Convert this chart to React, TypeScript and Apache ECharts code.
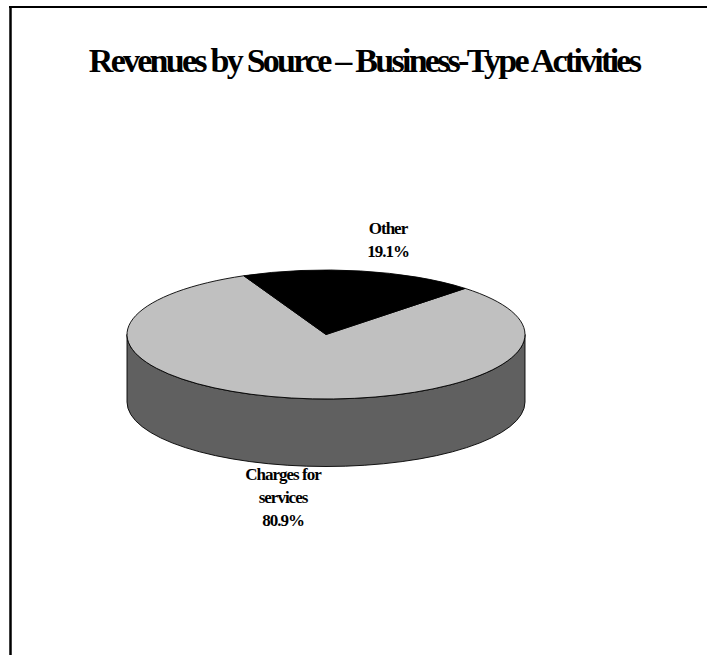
import React, { useEffect, useRef } from "react";
import * as echarts from "echarts";

const TITLE = "Revenues by Source – Business-Type Activities";
const categories = ["Charges for services", "Other"];
const shares = [80.9, 19.1];
const labels = ["Charges for\nservices\n80.9%", "Other\n19.1%"];
const sliceColors = ["#C0C0C0", "#000000"];
const SIDE = "#606060";

const CX = 326, CY = 334.5, RX = 199, RY = 64.5, DEPTH = 67.5;
const OTHER_START = 114.4;

const pt = (deg: number, dy = 0) => {
  const a = (deg * Math.PI) / 180;
  return [CX + RX * Math.cos(a), CY + dy - RY * Math.sin(a)];
};

const renderItem = (params: any, api: any) => {
  const idx = params.dataIndex;
  const value = api.value(0) as number;
  const otherSweep = (shares[1] / 100) * 360;
  const start = idx === 1 ? OTHER_START - otherSweep : OTHER_START;
  const sweep = (value / 100) * 360;
  const end = start + sweep;
  const children: any[] = [];
  const stroke = { stroke: "#000", lineWidth: 0.9 };
  if (idx === 0) {
    const l = pt(180), lb = pt(180, DEPTH), r = pt(360), rb = pt(360, DEPTH);
    children.push({
      type: "path",
      shape: {
        pathData: `M${l[0]} ${l[1]}L${lb[0]} ${lb[1]}A${RX} ${RY} 0 0 0 ${rb[0]} ${rb[1]}L${r[0]} ${r[1]}A${RX} ${RY} 0 0 1 ${l[0]} ${l[1]}Z`,
      },
      style: { fill: SIDE, ...stroke },
    });
  }
  const s = pt(start), e = pt(end);
  const large = sweep > 180 ? 1 : 0;
  children.push({
    type: "path",
    shape: {
      pathData: `M${CX} ${CY}L${s[0]} ${s[1]}A${RX} ${RY} 0 ${large} 0 ${e[0]} ${e[1]}Z`,
    },
    style: { fill: sliceColors[idx], ...stroke },
  });
  return { type: "group", children };
};

export default function App() {
  const ref = useRef<HTMLDivElement>(null);
  useEffect(() => {
    const chart = echarts.init(ref.current!, undefined, { renderer: "svg" });
    chart.setOption({
      animation: false,
      backgroundColor: "#fff",
      graphic: [
        { type: "line", shape: { x1: 10.5, y1: 6, x2: 10.5, y2: 655 }, style: { stroke: "#000", lineWidth: 2.5 } },
        { type: "line", shape: { x1: 9, y1: 7, x2: 707, y2: 7 }, style: { stroke: "#000", lineWidth: 2 } },
        {
          type: "text", x: 364, y: 60,
          style: { text: TITLE, fill: "#000", font: "bold 34px 'Liberation Serif'", align: "center", verticalAlign: "middle" },
        },
        {
          type: "text", x: 388, y: 240,
          style: { text: labels[1], fill: "#000", font: "bold 17px 'Liberation Serif'", lineHeight: 23, align: "center", verticalAlign: "middle" },
        },
        {
          type: "text", x: 283, y: 497,
          style: { text: labels[0], fill: "#000", font: "bold 17px 'Liberation Serif'", lineHeight: 23, align: "center", verticalAlign: "middle" },
        },
      ],
      series: [
        {
          type: "custom",
          coordinateSystem: "none",
          renderItem,
          data: categories.map((name, i) => ({ name, value: [shares[i]] })),
        },
      ],
    });
    return () => chart.dispose();
  }, []);
  return (
    <>
      <style>{`svg text{letter-spacing:-1px} svg text[style*="34px"]{letter-spacing:-2.75px}`}</style>
      <div ref={ref} style={{ position: "fixed", left: 0, top: 0, width: 707, height: 655 }} />
    </>
  );
}
